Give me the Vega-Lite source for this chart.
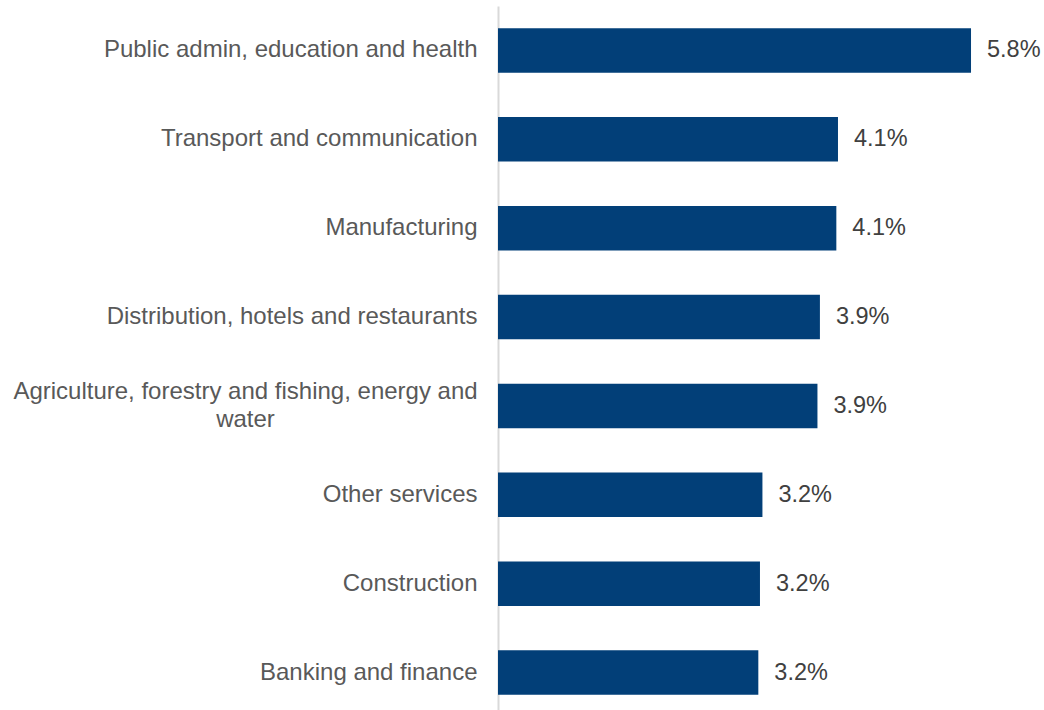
{
  "$schema": "https://vega.github.io/schema/vega-lite/v6.json",
  "autosize": "none",
  "width": 542,
  "height": 711,
  "padding": {"left": 498, "top": 6, "right": 4, "bottom": 0},
  "background": "white",
  "config": {"view": {"stroke": null}, "font": "Liberation Sans"},
  "data": {"values": [
    {"sector": "Public admin, education and health", "value": 0.0576},
    {"sector": "Transport and communication", "value": 0.0414},
    {"sector": "Manufacturing", "value": 0.0412},
    {"sector": "Distribution, hotels and restaurants", "value": 0.0392},
    {"sector": "Agriculture, forestry and fishing, energy and water", "value": 0.0389},
    {"sector": "Other services", "value": 0.0322},
    {"sector": "Construction", "value": 0.0319},
    {"sector": "Banking and finance", "value": 0.0317}
  ]},
  "encoding": {
    "y": {"field": "sector", "type": "nominal", "sort": null,
      "scale": {"paddingInner": 0.5, "paddingOuter": 0.25},
      "axis": {"title": null, "ticks": false, "domainColor": "#d9d9d9", "domainWidth": 2,
        "labelFont": "Liberation Sans", "labelFontSize": 24, "labelColor": "#595959",
        "labelLimit": 600, "labelLineHeight": 28,
        "labelPadding": {"condition": {"test": "datum.label == 'Agriculture, forestry and fishing, energy and water'", "value": 253}, "value": 21},
        "labelAlign": {"condition": {"test": "datum.label == 'Agriculture, forestry and fishing, energy and water'", "value": "center"}, "value": "right"},
        "labelOffset": {"condition": {"test": "datum.label == 'Agriculture, forestry and fishing, energy and water'", "value": -14}, "value": 0},
        "labelExpr": "datum.label == 'Agriculture, forestry and fishing, energy and water' ? ['Agriculture, forestry and fishing, energy and', 'water'] : datum.label"}},
    "x": {"field": "value", "type": "quantitative", "scale": {"domain": [0, 0.066]}, "axis": null}
  },
  "layer": [
    {"mark": {"type": "bar", "color": "#023f78"}},
    {"mark": {"type": "text", "align": "left", "dx": 16, "fontSize": 23.5, "color": "#404040", "font": "Liberation Sans"},
     "encoding": {"text": {"field": "value", "type": "quantitative", "format": ".1%"}}}
  ]
}
